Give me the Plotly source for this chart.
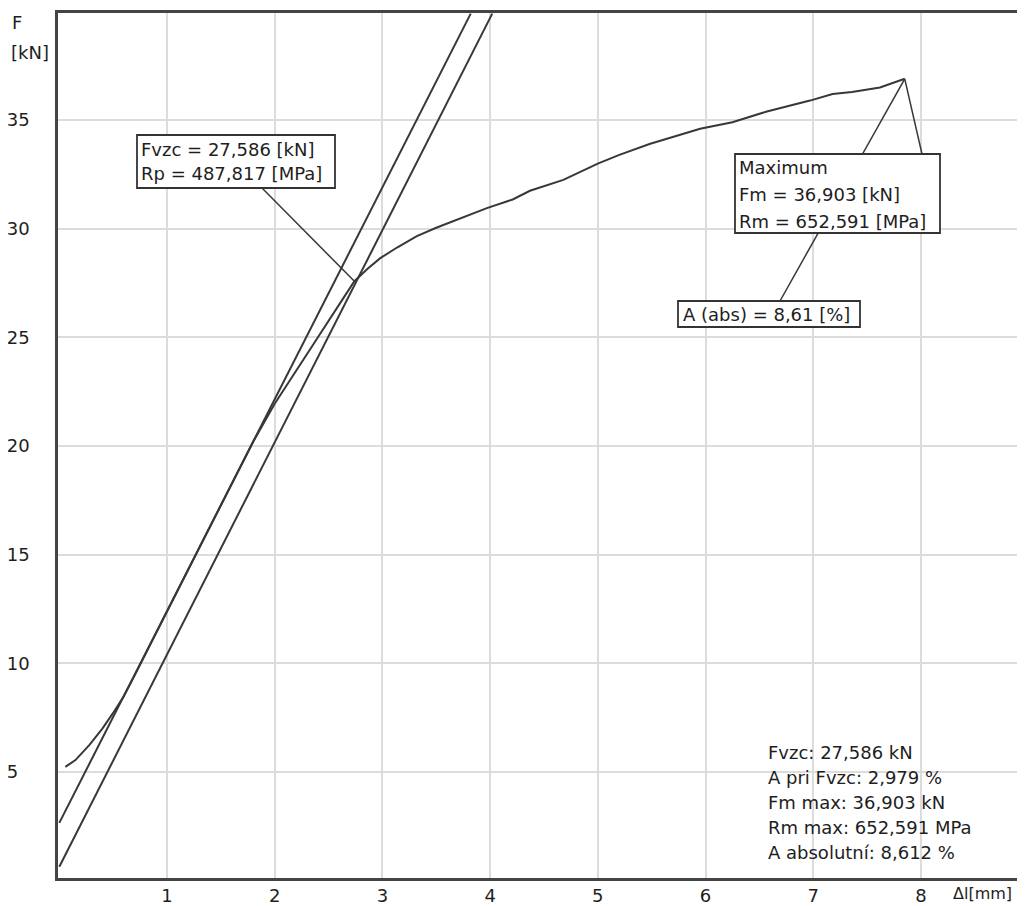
import plotly.graph_objects as go

# ---------------- data ----------------
deform_mm = [0.056, 0.15, 0.28, 0.40, 0.50, 0.60, 0.70, 1.00, 1.50, 1.80, 2.00, 2.16,
             2.40, 2.63, 2.74, 2.86, 2.98, 3.14, 3.32, 3.50, 3.69, 3.97, 4.21, 4.37,
             4.68, 5.00, 5.20, 5.48, 5.95, 6.25, 6.57, 6.97, 7.18, 7.36, 7.62, 7.85]
force_kN = [5.24, 5.55, 6.25, 7.00, 7.72, 8.50, 9.45, 12.40, 17.30, 20.20, 21.95, 23.15,
            25.00, 26.75, 27.586, 28.15, 28.65, 29.15, 29.66, 30.05, 30.42, 30.95, 31.35, 31.75,
            32.25, 33.00, 33.40, 33.90, 34.60, 34.90, 35.40, 35.90, 36.20, 36.30, 36.50, 36.903]

upper_line_x = [0.0, 3.82]
upper_line_F = [2.66, 39.9]
lower_line_x = [0.0, 4.02]
lower_line_F = [0.64, 39.9]

yield_x, yield_F = 2.74, 27.586
max_x, max_F = 7.85, 36.903

x_ticks = [1, 2, 3, 4, 5, 6, 7, 8]
y_ticks = [5, 10, 15, 20, 25, 30, 35]
y_ticktext = ["5\u2007", "10", "15", "20", "25", "30", "35"]

box1_lines = ["Fvzc = 27,586 [kN]", "Rp = 487,817 [MPa]"]
box2_lines = ["Maximum", "Fm = 36,903 [kN]", "Rm = 652,591 [MPa]"]
box3_lines = ["A (abs) = 8,61 [%]"]
summary_lines = ["Fvzc: 27,586 kN", "A pri Fvzc: 2,979 %", "Fm max: 36,903 kN",
                 "Rm max: 652,591 MPa", "A absolutní: 8,612 %"]

# ---------------- layout geometry ----------------
# The page body has an 8 px margin, so the figure starts 8 px in from the window corner.
OFF = 8
VIEW_W, VIEW_H = 1025, 906
W, H = VIEW_W - OFF, VIEW_H - OFF
# plot-area edges in window pixels
L, R, T, B = 58, 1018, 13, 878
x_range = [(L - 59.3) / 107.7, (R - 59.3) / 107.7]
y_range = [(880.7 - B) / 21.73, (880.7 - T) / 21.73]


def dx(px):
    return x_range[0] + (px - L) / (R - L) * (x_range[1] - x_range[0])


def dy(py):
    return y_range[0] + (B - py) / (B - T) * (y_range[1] - y_range[0])


def paper_x(px):
    return (px - L) / (R - L)


def paper_y(py):
    return (B - py) / (B - T)


FONT = "DejaVu Sans"
INK = "#1e1e1e"
LINE = "#383838"

fig = go.Figure()
fig.add_trace(go.Scatter(x=upper_line_x, y=upper_line_F, mode="lines",
                         line=dict(color=LINE, width=2), hoverinfo="skip"))
fig.add_trace(go.Scatter(x=lower_line_x, y=lower_line_F, mode="lines",
                         line=dict(color=LINE, width=2), hoverinfo="skip"))
fig.add_trace(go.Scatter(x=deform_mm, y=force_kN, mode="lines",
                         line=dict(color=LINE, width=2)))

shapes = []
# connector lines
shapes.append(dict(type="line", xref="x", yref="y", x0=yield_x, y0=yield_F,
                   x1=dx(262), y1=dy(188), line=dict(color=LINE, width=1.5), layer="above"))
shapes.append(dict(type="line", xref="x", yref="y", x0=max_x, y0=max_F,
                   x1=dx(780), y1=dy(301), line=dict(color=LINE, width=1.5), layer="above"))
shapes.append(dict(type="line", xref="x", yref="y", x0=max_x, y0=max_F,
                   x1=dx(922), y1=dy(154), line=dict(color=LINE, width=1.5), layer="above"))
# boxes
for (x0, y0, x1, y1) in [(137, 135, 335, 188), (735, 154, 940, 233), (678, 301, 860, 327)]:
    shapes.append(dict(type="rect", xref="x", yref="y", x0=dx(x0), y0=dy(y0),
                       x1=dx(x1), y1=dy(y1), fillcolor="white",
                       line=dict(color="#333333", width=1.8), layer="above"))

annotations = []


def add_text(txt, px, py, size=18, anchor="left"):
    annotations.append(dict(text=txt, x=paper_x(px), y=paper_y(py), xref="paper", yref="paper",
                            xanchor=anchor, yanchor="middle", showarrow=False,
                            font=dict(family=FONT, size=size, color=INK)))


for i, t in enumerate(box1_lines):
    add_text(t, 139, 149 + 25 * i)
for i, t in enumerate(box2_lines):
    add_text(t, 737, 168 + 26.5 * i)
for t in box3_lines:
    add_text(t, 681, 314)
for i, t in enumerate(summary_lines):
    add_text(t, 766, 752 + 25 * i)

add_text("F", 10, 23)
add_text("[kN]", 9, 53)
add_text("Δl[mm]", 1014, 893, size=16, anchor="right")

fig.update_layout(
    width=W, height=H,
    margin=dict(l=L - OFF, r=VIEW_W - R, t=T - OFF, b=VIEW_H - B),
    paper_bgcolor="white", plot_bgcolor="white",
    showlegend=False,
    shapes=shapes, annotations=annotations,
    font=dict(family=FONT, size=18, color=INK),
)
fig.update_xaxes(range=x_range, tickvals=x_ticks, ticktext=[str(v) for v in x_ticks],
                 showgrid=True, gridcolor="#dcdcdc", gridwidth=1.5, zeroline=False,
                 showline=True, mirror=True, linecolor="#444444", linewidth=2.5,
                 ticks="", automargin=False, tickfont=dict(family=FONT, size=18, color=INK))
fig.update_yaxes(range=y_range, tickvals=y_ticks, ticktext=y_ticktext,
                 showgrid=True, gridcolor="#dcdcdc", gridwidth=1.5, zeroline=False,
                 showline=True, mirror=True, linecolor="#444444", linewidth=2.5,
                 ticks="", ticklabelstandoff=22, automargin=False,
                 tickfont=dict(family=FONT, size=18, color=INK))

fig.write_html("out.html")
